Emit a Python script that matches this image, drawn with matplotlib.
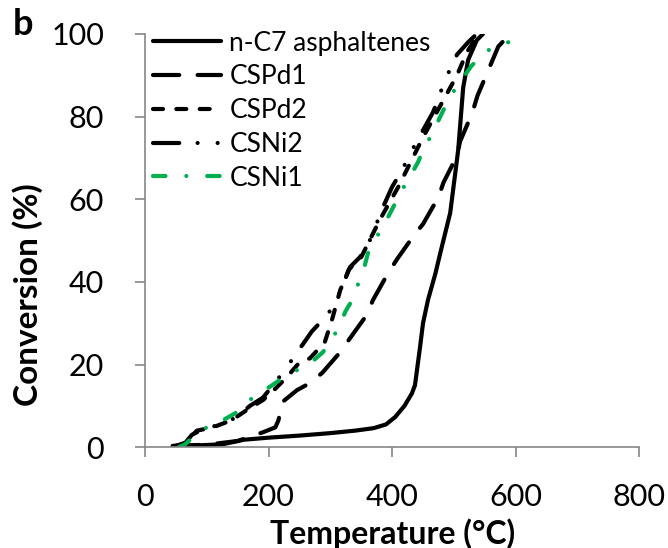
import matplotlib
matplotlib.use("Agg")
import matplotlib.pyplot as plt

plt.rcParams['font.family'] = ['Lato', 'DejaVu Sans']

# n-C7 asphaltenes (solid)
t_nc7 = [45, 80, 126, 160, 200, 250, 300, 340, 370, 390, 405, 420, 432, 437, 445, 450, 458, 470, 478, 494, 507, 515, 523, 537, 547]
c_nc7 = [0.3, 0.4, 0.7, 1.8, 2.3, 2.8, 3.4, 4.0, 4.6, 5.5, 7.3, 10, 13, 15, 24, 30, 35.6, 42, 47, 56.7, 72, 87, 93.7, 98.5, 100]

# CSPd1 (long dash)
t_pd1 = [45, 100, 150, 191, 211, 216, 219, 223, 246, 267, 287, 316, 332, 359, 369, 393, 408, 434, 450, 475, 483, 505, 510, 530, 538, 555, 572, 591]
c_pd1 = [0.3, 0.6, 1.5, 3.6, 4.8, 6.5, 8.5, 11, 13.8, 15.5, 18, 23, 26.4, 32, 35.6, 42, 45.5, 51, 54, 60.5, 64, 70.5, 74, 81, 85, 91, 97, 100]

# CSPd2 (short dash)
t_pd2 = [50, 65, 84, 110, 140, 170, 191, 210, 230, 250, 267, 291, 303, 316, 330, 350, 380, 410, 450, 483, 505, 521, 540]
c_pd2 = [0.3, 1.0, 4.0, 4.8, 6.5, 9.5, 11.4, 14, 17, 20.5, 21.5, 25.4, 31, 38, 43, 46, 55, 63, 75, 84, 90, 95.6, 100]

# CSNi2 (long dash - dot - dot)
t_ni2 = [50, 65, 76, 97, 110, 134, 151, 170, 191, 210, 230, 243, 256, 270, 287, 303, 314, 332, 348, 361, 372, 385, 400, 416, 429, 453, 466, 476, 483, 505, 523, 537]
c_ni2 = [0.3, 1.0, 3.0, 4.6, 5.0, 6.0, 7.7, 10, 12, 15.5, 19.4, 22.3, 25, 28, 30.7, 33.6, 37, 43.6, 46, 49, 53, 58, 63, 67, 71, 77.5, 81, 84.7, 88, 95, 98, 100]

# CSNi1 (green dash-dot)
t_ni1 = [55, 65, 81, 102, 126, 146, 165, 186, 206, 227, 251, 270, 288, 304, 314, 325, 337, 345, 354, 361, 371, 384, 397, 406, 419, 432, 442, 453, 466, 476, 487, 499, 513, 528, 546, 564, 588]
c_ni1 = [0.0, 0.7, 2.9, 5.0, 6.5, 8.2, 11, 13, 15, 17.2, 19, 20.6, 23, 26.4, 29.3, 33, 36, 39.5, 43, 47, 50, 53, 56.7, 59.3, 63, 66.3, 69, 72.9, 76, 79.4, 82.8, 86, 89, 92.2, 95, 96.9, 98]

x_ticks = [0, 200, 400, 600, 800]
y_ticks = [0, 20, 40, 60, 80, 100]

fig = plt.figure(figsize=(6.68, 5.48), dpi=100)
ax = fig.add_axes([0.217, 0.184, 0.740, 0.754])

lw = 3.0
kw = dict(lw=lw, dash_capstyle='round', solid_capstyle='round')
ax.plot(t_nc7, c_nc7, color='black', label='n-C7 asphaltenes', **kw)
ax.plot(t_pd1, c_pd1, color='black', dashes=(6.3, 4.4), label='CSPd1', **kw)
ax.plot(t_pd2, c_pd2, color='black', dashes=(2.4, 3.2), label='CSPd2', **kw)
ax.plot(t_ni2, c_ni2, color='black', dashes=(6.3, 4.4, 0.01, 4.8, 0.01, 4.4), label='CSNi2', **kw)
ax.plot(t_ni1, c_ni1, color='#00B050', dashes=(3.0, 5.0, 0.01, 5.0), label='CSNi1', **kw)

ax.set_xlim(0, 800)
ax.set_ylim(0, 100)
ax.set_xticks(x_ticks)
ax.set_yticks(y_ticks)
ax.tick_params(axis='both', direction='out', length=7.5, width=1.2, color='#868686', labelsize=22)
ax.tick_params(axis='x', pad=18)
ax.tick_params(axis='y', pad=22)
for s in ['top', 'right']:
    ax.spines[s].set_visible(False)
for s in ['left', 'bottom']:
    ax.spines[s].set_color('#868686')
    ax.spines[s].set_linewidth(1.2)

ax.set_xlabel('Temperature (°C)', fontsize=23, fontweight='bold')
ax.xaxis.set_label_coords(0.5, -0.172)
ax.set_ylabel('Conversion (%)', fontsize=24, fontweight='bold')
ax.yaxis.set_label_coords(-0.207, 0.368)

leg = ax.legend(loc='upper left', bbox_to_anchor=(0.016, 1.008), frameon=False, fontsize=19,
                handlelength=2.6, handletextpad=0.3, labelspacing=0.33, borderaxespad=0.0,
                borderpad=0.0)

fig.text(0.034, 0.955, 'b', fontsize=26, fontweight='bold', ha='center', va='center')

fig.savefig('out.png', dpi=100)
